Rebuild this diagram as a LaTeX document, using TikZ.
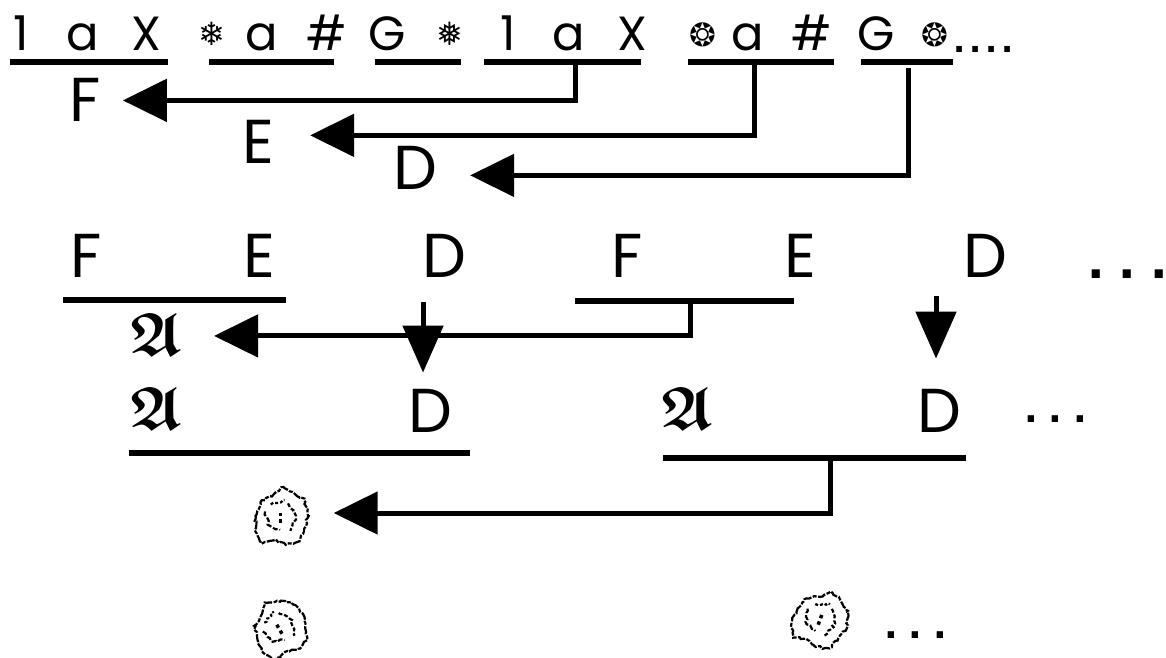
\documentclass[tikz,border=0pt]{standalone}
\usepackage{fontspec}
\usepackage{amsmath,amssymb}
\setmainfont{Poppins}
\newfontfamily\symfont{DejaVu Sans}
\usetikzlibrary{arrows.meta,decorations.pathmorphing}
\begin{document}
\begin{tikzpicture}[x=1pt,y=-1pt,
  t1/.style={anchor=base, inner sep=0pt, font=\fontsize{48}{48}\selectfont},
  t2/.style={anchor=base, inner sep=0pt, font=\fontsize{62}{62}\selectfont},
  sym/.style={anchor=base, inner sep=0pt, font=\symfont\bfseries\fontsize{32}{32}\selectfont},
  frak/.style={anchor=base, inner sep=0pt, font=\fontsize{61}{61}\selectfont},
  dotsA/.style={anchor=base west, inner sep=0pt, font=\symfont\bfseries\fontsize{32}{32}\selectfont},
  dotsB/.style={anchor=base west, inner sep=0pt, font=\symfont\bfseries\fontsize{46}{46}\selectfont},
  dotsC/.style={anchor=base west, inner sep=0pt, font=\symfont\bfseries\fontsize{36}{36}\selectfont},
  blobnode/.style={inner sep=0pt, minimum width=55pt, minimum height=52pt},
  ulA/.style={line width=5.5pt},
  ulB/.style={line width=6.5pt},
  arr/.style={line width=5pt, line join=miter, -{Triangle[length=44pt,width=42pt]}},
  darr/.style={line width=5pt, -{Triangle[length=47pt,width=40pt]}},
  blobline/.style={line width=2.2pt, decorate,
    decoration={random steps, segment length=2.5pt, amplitude=1.3pt}},
  blob/.pic={
    \begin{scope}[scale=1.15]
    \draw[blobline, dash pattern=on 8pt off 1.5pt on 4pt off 1.5pt]
      (-21,2) -- (-17,-12) -- (-7,-17) -- (1,-25) -- (11,-21) -- (21,-14)
      -- (25,0) -- (21,11) -- (17,22) -- (5,25) -- (-5,21) -- (-16,24)
      -- (-22,12) -- cycle;
    \draw[blobline, dash pattern=on 5pt off 2pt]
      (-13,-4) -- (-10,8) -- (0,12);
    \draw[blobline, dash pattern=on 4pt off 2pt]
      (7,-11) -- (14,0) -- (9,13);
    \draw[blobline, dash pattern=on 3pt off 2pt]
      (-8,-10) -- (4,-14);
    \fill (-1,-3) rectangle (2,0);
    \fill (-1,3) rectangle (2,6);
    \end{scope}
  }
]
\useasboundingbox (0,0) rectangle (1166,657);

% ---------- row 1 ----------
\node[t1] (a1) at (21,50) {1};
\node[t1] (a2) at (83,50) {a};
\node[t1] (a3) at (146,50) {X};
\node[sym] (a4) at (212,45) {❄};
\node[t1] (a5) at (262,50) {a};
\node[t1] (a6) at (327,50) {\#};
\node[t1] (a7) at (387,50) {G};
\node[sym] (a8) at (450,45) {❅};
\node[t1] (a9) at (508,50) {1};
\node[t1] (a10) at (569,50) {a};
\node[t1] (a11) at (632,50) {X};
\node[sym] (a12) at (703,46) {❂};
\node[t1] (a13) at (748,50) {a};
\node[t1] (a14) at (812,50) {\#};
\node[t1] (a15) at (876,50) {G};
\node[sym] (a16) at (935,46) {❂};
\node[dotsA] (a17) at (953,52) {.\kern4pt.\kern4pt.\kern4pt.};

\draw[ulA] (10,62) -- (168,62);
\draw[ulA] (209,62) -- (334,62);
\draw[ulA] (375,62) -- (461,62);
\draw[ulA] (484,62) -- (641,62);
\draw[ulA] (688,62) -- (834,62);
\draw[ulA] (861,62) -- (953,62);
\coordinate (u4) at (575,62);
\coordinate (u5) at (754,62);
\coordinate (u6) at (908,68);

% ---------- F E D labels ----------
\node[t2] (F1) at (85,121) {F};
\node[t2] (E1) at (258,163) {E};
\node[t2] (D1) at (415,189) {D};

\draw[arr] (u4) |- ([xshift=22pt,yshift=-1pt]F1.east);
\draw[arr] (u5) |- ([xshift=36pt,yshift=6pt]E1.east);
\draw[arr] (u6) |- ([xshift=33pt,yshift=-8pt]D1.east);

% ---------- row 2 ----------
\node[t2] (F2) at (86,277) {F};
\node[t2] (E2) at (259,277) {E};
\node[t2] (D2) at (444,277) {D};
\node[t2] (F3) at (627,277) {F};
\node[t2] (E3) at (800,277) {E};
\node[t2] (D3) at (985,277) {D};
\node[dotsB] (r2d) at (1087,278) {.\kern14pt.\kern14pt.};

\draw[ulB] (63,300) -- (286,300);
\draw[ulB] (575,301) -- (794,301);
\coordinate (w2) at (690,301);

% ---------- row 3 ----------
\node[frak] (A1) at (156,355) {$\boldsymbol{\mathfrak{A}}$};
\node[frak] (A2) at (156,429) {$\boldsymbol{\mathfrak{A}}$};
\node[t2] (D4) at (430,432) {D};
\node[frak] (A3) at (687,429) {$\boldsymbol{\mathfrak{A}}$};
\node[t2] (D5) at (939,432) {D};
\node[dotsC] (r3d) at (1024,422) {.\kern11pt.\kern11pt.};

\draw[ulB] (129,453) -- (470,453);
\draw[ulB] (663,458) -- (966,458);
\coordinate (w3) at (830,458);

% down arrows D -> D
\coordinate (v1) at (423,302);
\coordinate (v2) at (936,296);
\draw[darr] (v1) -- ([yshift=16pt]v1 |- D4.north);
\draw[darr] (v2) -- ([yshift=30pt]v2 |- D5.north);

% A arrow
\draw[arr] (w2) |- ([xshift=32pt,yshift=-2pt]A1.east);

% ---------- blobs ----------
\node[blobnode] (Z1) at (280,516) {};
\pic at (Z1) {blob};
\node[blobnode] (Z2) at (278,628) {};
\pic[rotate=30] at (Z2) {blob};
\node[blobnode] (Z3) at (820,618) {};
\pic[rotate=-20] at (Z3) {blob};
\node[dotsC] (r4d) at (884,638) {.\kern11pt.\kern11pt.};

\draw[arr] (w3) |- ([xshift=26pt,yshift=3pt]Z1.east);
\end{tikzpicture}
\end{document}
